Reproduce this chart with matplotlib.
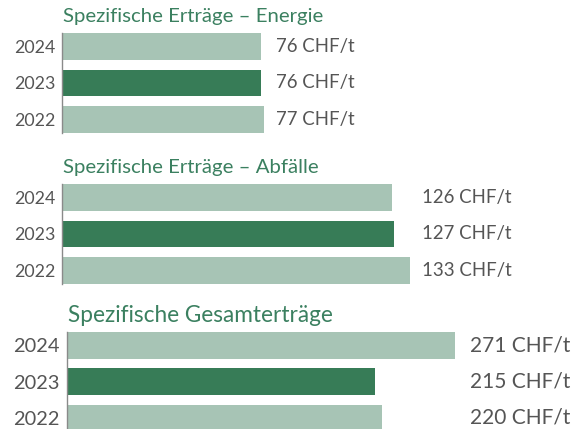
import matplotlib
matplotlib.use("Agg")
import matplotlib.pyplot as plt

# ----------------- data -----------------
years = ["2024", "2023", "2022"]
titles = ["Spezifische Erträge – Energie",
          "Spezifische Erträge – Abfälle",
          "Spezifische Gesamterträge"]
energie = [76, 76, 77]
abfaelle = [126, 127, 133]
gesamt = [271, 215, 220]
unit = "CHF/t"

# ----------------- style -----------------
LIGHT = "#a7c4b5"
DARK = "#377c57"
TITLE_C = "#3b8060"
TEXT_C = "#555555"
FONT = "Lato"

W, H = 573, 429
fig = plt.figure(figsize=(W / 100, H / 100), dpi=100)

# panel layout in pixels: (axis left x, bar top y, bar bottom y, px per unit,
#                          value label x, title x, title y, text size, title size)
panels = [
    (62.0, 33.3, 132.7, 2.618, 276.0, 63.0, 16.5, 13.4, 14.7),
    (62.0, 184.0, 284.0, 2.618, 422.5, 63.0, 167.0, 13.4, 14.7),
    (66.7, 332.3, 431.0, 1.433, 469.5, 68.0, 315.5, 15.0, 16.3),
]
series = [energie, abfaelle, gesamt]
colors = [LIGHT, DARK, LIGHT]
bar_h = 0.73

for (left, top, bot, scale, lab_x, tx, ty, fs, tfs), vals, title in zip(panels, series, titles):
    width_px = W - left
    ax = fig.add_axes([left / W, 1 - bot / H, width_px / W, (bot - top) / H])
    ypos = range(len(vals))
    ax.barh(ypos, vals, height=bar_h, color=colors)
    ax.set_xlim(0, width_px / scale)
    ax.set_ylim(len(vals) - 1 + bar_h / 2, -bar_h / 2)
    ax.set_yticks(list(ypos))
    ax.set_yticklabels(years, fontsize=fs - 0.6, color=TEXT_C, family=FONT)
    ax.tick_params(axis="y", length=0, pad=5)
    ax.set_xticks([])
    for s in ["top", "right", "bottom"]:
        ax.spines[s].set_visible(False)
    ax.spines["left"].set_color("#8a8a8a")
    ax.spines["left"].set_linewidth(1.0)
    ax.patch.set_alpha(0)
    for y, v in zip(ypos, vals):
        ax.text((lab_x - left) / scale, y, f"{v} {unit}", ha="left", va="center",
                fontsize=fs, color=TEXT_C, family=FONT)
    fig.text(tx / W, 1 - ty / H, title, ha="left", va="center",
             fontsize=tfs, color=TITLE_C, family=FONT)

fig.savefig("out.png", dpi=100)
